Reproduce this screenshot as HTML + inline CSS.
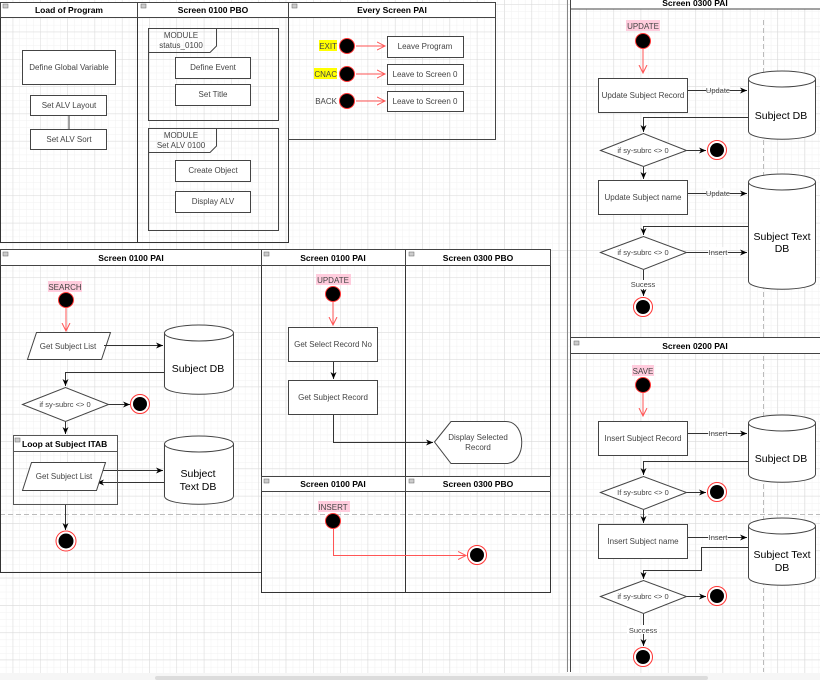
<!DOCTYPE html>
<html><head><meta charset="utf-8"><style>
html,body{margin:0;padding:0;background:#fff;}
svg{display:block;font-family:"Liberation Sans",sans-serif;}
.h{font-size:8.5px;font-weight:bold;fill:#000;text-anchor:middle;}
.t{font-size:8px;fill:#444;text-anchor:middle;}
.b{font-size:10.5px;fill:#000;text-anchor:middle;}
.l{font-size:7.5px;fill:#444;text-anchor:middle;}
</style></head><body>
<svg width="820" height="680" viewBox="0 0 820 680" xmlns="http://www.w3.org/2000/svg">
<defs>
<pattern id="mi" x="12.7" y="4.4" width="6.83" height="6.83" patternUnits="userSpaceOnUse"><path d="M0 0H6.83M0 0V6.83" stroke="#f1f1f1" stroke-width="1" fill="none"/></pattern>
<pattern id="ma" x="12.7" y="4.4" width="27.3" height="27.3" patternUnits="userSpaceOnUse"><path d="M0 0H27.3M0 0V27.3" stroke="#d9d9d9" stroke-width="1" fill="none"/></pattern>
<marker id="ab" markerWidth="8" markerHeight="8" refX="7" refY="4" orient="auto" markerUnits="userSpaceOnUse"><path d="M0 1L7 4L0 7L2 4Z" fill="#000"/></marker>
<marker id="ar" markerWidth="10" markerHeight="10" refX="8" refY="5" orient="auto" markerUnits="userSpaceOnUse"><path d="M0 1L8 5L0 9" fill="none" stroke="#f55" stroke-width="1"/></marker>
</defs>
<rect width="820" height="680" fill="#fff"/>
<rect width="820" height="680" fill="url(#mi)"/>
<rect width="820" height="680" fill="url(#ma)"/>
<rect x="0" y="673" width="820" height="7" fill="#f6f6f6"/>
<rect x="155" y="676" width="553" height="4" rx="2" fill="#dcdcdc"/>

<g fill="none" stroke="#000" stroke-width="1">
<!-- top frames -->
<rect x="0.5" y="2.5" width="137" height="240" fill="none" stroke="#333"/>
<rect x="137.5" y="2.5" width="151" height="240" stroke="#333"/>
<rect x="288.5" y="2.5" width="207" height="137" stroke="#444"/>
</g>
<g fill="#fff" stroke="#444">
<rect x="0.5" y="2.5" width="137" height="15"/><rect x="137.5" y="2.5" width="151" height="15"/><rect x="288.5" y="2.5" width="207" height="15"/>
</g>
<g fill="#ccc" stroke="#666" stroke-width="0.5"><rect x="3" y="4" width="5" height="4"/><rect x="141" y="4" width="5" height="4"/><rect x="292" y="4" width="5" height="4"/></g>
<text class="h" x="69" y="13">Load of Program</text>
<text class="h" x="213" y="13">Screen 0100 PBO</text>
<text class="h" x="392" y="13">Every Screen PAI</text>

<g fill="#fff" stroke="#444" stroke-width="1">
<rect x="22.5" y="50.5" width="93" height="34"/>
<rect x="30.5" y="95.5" width="76" height="20"/>
<rect x="30.5" y="129.5" width="76" height="20"/>
<line x1="69" y1="115.5" x2="69" y2="129.5"/>
<rect x="148.5" y="28.5" width="130" height="92" fill="none"/>
<path d="M148.5 52.5H210L216.5 46V28.5" fill="none"/>
<rect x="175.5" y="57.5" width="75" height="21"/>
<rect x="175.5" y="84.5" width="75" height="21"/>
<rect x="148.5" y="128.5" width="130" height="102" fill="none"/>
<path d="M148.5 152.5H210L216.5 146V128.5" fill="none"/>
<rect x="175.5" y="160.5" width="75" height="21"/>
<rect x="175.5" y="191.5" width="75" height="21"/>
<rect x="387.5" y="36.5" width="76" height="21"/>
<rect x="387.5" y="64.5" width="76" height="20"/>
<rect x="387.5" y="91.5" width="76" height="20"/>
</g>
<text class="t" x="69" y="70">Define Global Variable</text>
<text class="t" x="69" y="108">Set ALV Layout</text>
<text class="t" x="69" y="142">Set ALV Sort</text>
<text class="t" x="181" y="38">MODULE</text><text class="t" x="181" y="48">status_0100</text>
<text class="t" x="213" y="70">Define Event</text>
<text class="t" x="213" y="97">Set Title</text>
<text class="t" x="181" y="138">MODULE</text><text class="t" x="181" y="148">Set ALV 0100</text>
<text class="t" x="213" y="173">Create Object</text>
<text class="t" x="213" y="204">Display ALV</text>
<text class="t" x="425" y="49">Leave Program</text>
<text class="t" x="425" y="77">Leave to Screen 0</text>
<text class="t" x="425" y="104">Leave to Screen 0</text>
<rect x="319" y="40" width="18" height="11" fill="#ff0"/>
<rect x="314" y="68" width="23" height="11" fill="#ff0"/>
<text class="t" x="337" y="49" text-anchor="end" style="text-anchor:end">EXIT</text>
<text class="t" x="337" y="77" style="text-anchor:end">CNAC</text>
<text class="t" x="337" y="104" style="text-anchor:end">BACK</text>
<g fill="#000" stroke="#f33" stroke-width="1"><circle cx="347" cy="46" r="7.5"/><circle cx="347" cy="74" r="7.5"/><circle cx="347" cy="101" r="7.5"/></g>
<g stroke="#f55" stroke-width="1" marker-end="url(#ar)"><line x1="356" y1="46" x2="385" y2="46"/><line x1="356" y1="74" x2="385" y2="74"/><line x1="356" y1="101" x2="385" y2="101"/></g>

<!-- dashed line -->
<line x1="0" y1="514.5" x2="820" y2="514.5" stroke="#bbb" stroke-dasharray="5,3"/>
<line x1="763.5" y1="20" x2="763.5" y2="672" stroke="#bbb" stroke-dasharray="5,3"/>

<!-- Screen 0100 PAI big -->
<rect x="0.5" y="249.5" width="261" height="323" fill="none" stroke="#333"/>
<rect x="261.5" y="249.5" width="144" height="227" fill="none" stroke="#333"/>
<rect x="405.5" y="249.5" width="145" height="227" fill="none" stroke="#333"/>
<rect x="261.5" y="476.5" width="144" height="116" fill="none" stroke="#333"/>
<rect x="405.5" y="476.5" width="145" height="116" fill="none" stroke="#333"/>
<g fill="#fff" stroke="#444"><rect x="0.5" y="249.5" width="261" height="16"/><rect x="261.5" y="249.5" width="144" height="16"/><rect x="405.5" y="249.5" width="145" height="16"/><rect x="261.5" y="476.5" width="144" height="15"/><rect x="405.5" y="476.5" width="145" height="15"/></g>
<g fill="#ccc" stroke="#666" stroke-width="0.5"><rect x="3" y="252" width="5" height="4"/><rect x="264" y="252" width="5" height="4"/><rect x="409" y="252" width="5" height="4"/><rect x="264" y="479" width="5" height="4"/><rect x="409" y="479" width="5" height="4"/></g>
<text class="h" x="131" y="261">Screen 0100 PAI</text>
<text class="h" x="333" y="261">Screen 0100 PAI</text>
<text class="h" x="478" y="261">Screen 0300 PBO</text>
<text class="h" x="333" y="487">Screen 0100 PAI</text>
<text class="h" x="478" y="487">Screen 0300 PBO</text>

<rect x="48" y="281" width="34" height="11" fill="#fcd"/>
<text class="t" x="65" y="290" fill="#b36">SEARCH</text>
<circle cx="66" cy="300" r="7.5" fill="#000" stroke="#f33"/>
<line x1="66" y1="308" x2="66" y2="331" stroke="#f55" marker-end="url(#ar)"/>
<path d="M36.5 332.5H110.5L101.5 359.5H27.5Z" fill="#fff" stroke="#444"/>
<text class="t" x="68" y="349">Get Subject List</text>
<g fill="#fff" stroke="#444"><path d="M164.5 333V386C164.5 397 233.5 397 233.5 386V333"/><ellipse cx="199" cy="333" rx="34.5" ry="8"/></g>
<text class="b" x="198" y="372">Subject DB</text>
<g fill="none" stroke="#333" marker-end="url(#ab)">
<line x1="104" y1="345.5" x2="163" y2="345.5"/>
<path d="M164 372.5H65.5V386"/>
<line x1="108" y1="404.5" x2="130" y2="404.5"/>
<line x1="65.5" y1="421" x2="65.5" y2="434"/>
<line x1="102" y1="470.5" x2="163" y2="470.5"/>
<line x1="164" y1="482.5" x2="97" y2="482.5"/>
<line x1="65.5" y1="505" x2="65.5" y2="530"/>
</g>
<path d="M22.5 404.5L65.5 387.5L108.5 404.5L65.5 421.5Z" fill="#fff" stroke="#444"/>
<text class="l" x="65" y="407">if sy-subrc &lt;&gt; 0</text>
<circle cx="140" cy="404" r="9.5" fill="#fff" stroke="#f33"/><circle cx="140" cy="404" r="7" fill="#000"/>
<rect x="13.5" y="435.5" width="104" height="69" fill="none" stroke="#555"/>
<rect x="13.5" y="435.5" width="104" height="16" fill="#fff" stroke="#555"/>
<rect x="15" y="438" width="5" height="4" fill="#ccc" stroke="#666" stroke-width="0.5"/>
<text x="22" y="447" style="font-size:8.5px;font-weight:bold">Loop at Subject ITAB</text>
<path d="M31.5 462.5H105.5L96.5 490.5H22.5Z" fill="#fff" stroke="#444"/>
<text class="t" x="64" y="479">Get Subject List</text>
<g fill="#fff" stroke="#444"><path d="M164.5 444V496C164.5 507 233.5 507 233.5 496V444"/><ellipse cx="199" cy="444" rx="34.5" ry="8"/></g>
<text class="b" x="198" y="477">Subject</text><text class="b" x="198" y="490">Text DB</text>
<circle cx="66" cy="541" r="10" fill="#fff" stroke="#f33"/><circle cx="66" cy="541" r="7.5" fill="#000"/>

<!-- middle -->
<rect x="316" y="274" width="35" height="11" fill="#fcd"/>
<text class="t" x="333" y="283" fill="#b36">UPDATE</text>
<circle cx="333" cy="294" r="7.5" fill="#000" stroke="#f33"/>
<line x1="333" y1="302" x2="333" y2="325" stroke="#f55" marker-end="url(#ar)"/>
<rect x="288.5" y="327.5" width="89" height="34" fill="#fff" stroke="#444"/>
<rect x="288.5" y="380.5" width="89" height="34" fill="#fff" stroke="#444"/>
<text class="t" x="333" y="347">Get Select Record No</text>
<text class="t" x="333" y="400">Get Subject Record</text>
<g fill="none" stroke="#333" marker-end="url(#ab)">
<line x1="333.5" y1="362" x2="333.5" y2="379"/>
<path d="M333.5 415V442.5H433"/>
</g>
<path d="M434.5 442L451 421.5H506C527 421.5 527 463.5 506 463.5H451Z" fill="#fff" stroke="#444"/>
<text class="t" x="478" y="440">Display Selected</text><text class="t" x="478" y="450">Record</text>
<rect x="318" y="501" width="32" height="11" fill="#fcd"/>
<text class="t" x="333" y="510" fill="#b36">INSERT</text>
<circle cx="333" cy="521" r="7.5" fill="#000" stroke="#f33"/>
<path d="M333.5 529V555.5H466" fill="none" stroke="#f55" marker-end="url(#ar)"/>
<circle cx="477" cy="555" r="9.5" fill="#fff" stroke="#f33"/><circle cx="477" cy="555" r="7" fill="#000"/>

<!-- right column -->
<line x1="567.5" y1="0" x2="567.5" y2="672" stroke="#888"/>
<line x1="570.5" y1="0" x2="570.5" y2="672" stroke="#444"/>
<rect x="570.5" y="-1" width="260" height="10" fill="#fff" stroke="#444"/>
<text class="h" x="695" y="6">Screen 0300 PAI</text>
<rect x="570.5" y="337.5" width="260" height="16" fill="#fff" stroke="#444"/>
<rect x="574" y="341" width="5" height="4" fill="#ccc" stroke="#666" stroke-width="0.5"/>
<text class="h" x="695" y="349">Screen 0200 PAI</text>

<g fill="#fff" stroke="#444">
<rect x="598.5" y="78.5" width="89" height="34"/>
<rect x="598.5" y="180.5" width="89" height="34"/>
<rect x="598.5" y="421.5" width="89" height="34"/>
<rect x="598.5" y="524.5" width="89" height="34"/>
<path d="M748.5 79V131C748.5 142 815.5 142 815.5 131V79"/><ellipse cx="782" cy="79" rx="33.5" ry="8"/>
<path d="M748.5 182V281C748.5 292 815.5 292 815.5 281V182"/><ellipse cx="782" cy="182" rx="33.5" ry="8"/>
<path d="M748.5 423V474C748.5 485 815.5 485 815.5 474V423"/><ellipse cx="782" cy="423" rx="33.5" ry="8"/>
<path d="M748.5 526V577C748.5 588 815.5 588 815.5 577V526"/><ellipse cx="782" cy="526" rx="33.5" ry="8"/>
</g>
<text class="b" x="781" y="119">Subject DB</text>
<text class="b" x="782" y="240">Subject Text</text><text class="b" x="782" y="252">DB</text>
<text class="b" x="781" y="462">Subject DB</text>
<text class="b" x="782" y="558">Subject Text</text><text class="b" x="782" y="571">DB</text>
<text class="t" x="643" y="98">Update Subject Record</text>
<text class="t" x="643" y="200">Update Subject name</text>
<text class="t" x="643" y="441">Insert Subject Record</text>
<text class="t" x="643" y="544">Insert Subject name</text>

<rect x="626" y="20" width="34" height="11" fill="#fcd"/>
<text class="t" x="643" y="29" fill="#b36">UPDATE</text>
<rect x="632" y="365" width="22" height="11" fill="#fcd"/>
<text class="t" x="643" y="374" fill="#b36">SAVE</text>
<g fill="#000" stroke="#f33"><circle cx="643" cy="41" r="7.5"/><circle cx="643" cy="385" r="7.5"/></g>
<g stroke="#f55" fill="none" marker-end="url(#ar)"><line x1="643" y1="49" x2="643" y2="73"/><line x1="643" y1="393" x2="643" y2="416"/></g>

<g fill="none" stroke="#333" marker-end="url(#ab)">
<line x1="688" y1="90.5" x2="747" y2="90.5"/>
<path d="M748 117.5H643.5V132"/>
<line x1="686" y1="150.5" x2="706" y2="150.5"/>
<line x1="643.5" y1="167" x2="643.5" y2="179"/>
<line x1="688" y1="193.5" x2="747" y2="193.5"/>
<path d="M748 226.5H643.5V235"/>
<line x1="686" y1="252.5" x2="747" y2="252.5"/>
<line x1="643.5" y1="270" x2="643.5" y2="296"/>
<line x1="688" y1="433.5" x2="747" y2="433.5"/>
<path d="M748 461.5H643.5V475"/>
<line x1="686" y1="492.5" x2="706" y2="492.5"/>
<line x1="643.5" y1="510" x2="643.5" y2="523"/>
<line x1="688" y1="537.5" x2="747" y2="537.5"/>
<path d="M748 547.5H701.5V570.5H643.5V579"/>
<line x1="686" y1="596.5" x2="706" y2="596.5"/>
<line x1="643.5" y1="614" x2="643.5" y2="646"/>
</g>
<g fill="#fff" stroke="#444">
<path d="M600.5 150.5L643.5 133.5L686.5 150.5L643.5 166.5Z"/>
<path d="M600.5 252.5L643.5 236.5L686.5 252.5L643.5 269.5Z"/>
<path d="M600.5 492.5L643.5 476.5L686.5 492.5L643.5 509.5Z"/>
<path d="M600.5 596.5L643.5 580.5L686.5 596.5L643.5 613.5Z"/>
</g>
<text class="l" x="643" y="153">if sy-subrc &lt;&gt; 0</text>
<text class="l" x="643" y="255">if sy-subrc &lt;&gt; 0</text>
<text class="l" x="643" y="495">If sy-subrc &lt;&gt; 0</text>
<text class="l" x="643" y="599">if sy-subrc &lt;&gt; 0</text>
<g class="l">
<rect x="706" y="85" width="24" height="9" fill="#fff" opacity="0.8"/><text class="l" x="718" y="93">Update</text>
<rect x="706" y="188" width="24" height="9" fill="#fff" opacity="0.8"/><text class="l" x="718" y="196">Update</text>
<rect x="708" y="247" width="20" height="9" fill="#fff" opacity="0.8"/><text class="l" x="718" y="255">Insert</text>
<rect x="708" y="428" width="20" height="9" fill="#fff" opacity="0.8"/><text class="l" x="718" y="436">Insert</text>
<rect x="708" y="532" width="20" height="9" fill="#fff" opacity="0.8"/><text class="l" x="718" y="540">Insert</text>
<rect x="630" y="280" width="26" height="9" fill="#fff"/><text class="l" x="643" y="287">Sucess</text>
<rect x="627" y="625" width="32" height="9" fill="#fff"/><text class="l" x="643" y="633">Success</text>
</g>
<g><circle cx="717" cy="150" r="9.5" fill="#fff" stroke="#f33"/><circle cx="717" cy="150" r="7" fill="#000"/>
<circle cx="643" cy="307" r="9.5" fill="#fff" stroke="#f33"/><circle cx="643" cy="307" r="7" fill="#000"/>
<circle cx="717" cy="492" r="9.5" fill="#fff" stroke="#f33"/><circle cx="717" cy="492" r="7" fill="#000"/>
<circle cx="717" cy="596" r="9.5" fill="#fff" stroke="#f33"/><circle cx="717" cy="596" r="7" fill="#000"/>
<circle cx="643" cy="657" r="9.5" fill="#fff" stroke="#f33"/><circle cx="643" cy="657" r="7" fill="#000"/></g>
</svg>
</body></html>
